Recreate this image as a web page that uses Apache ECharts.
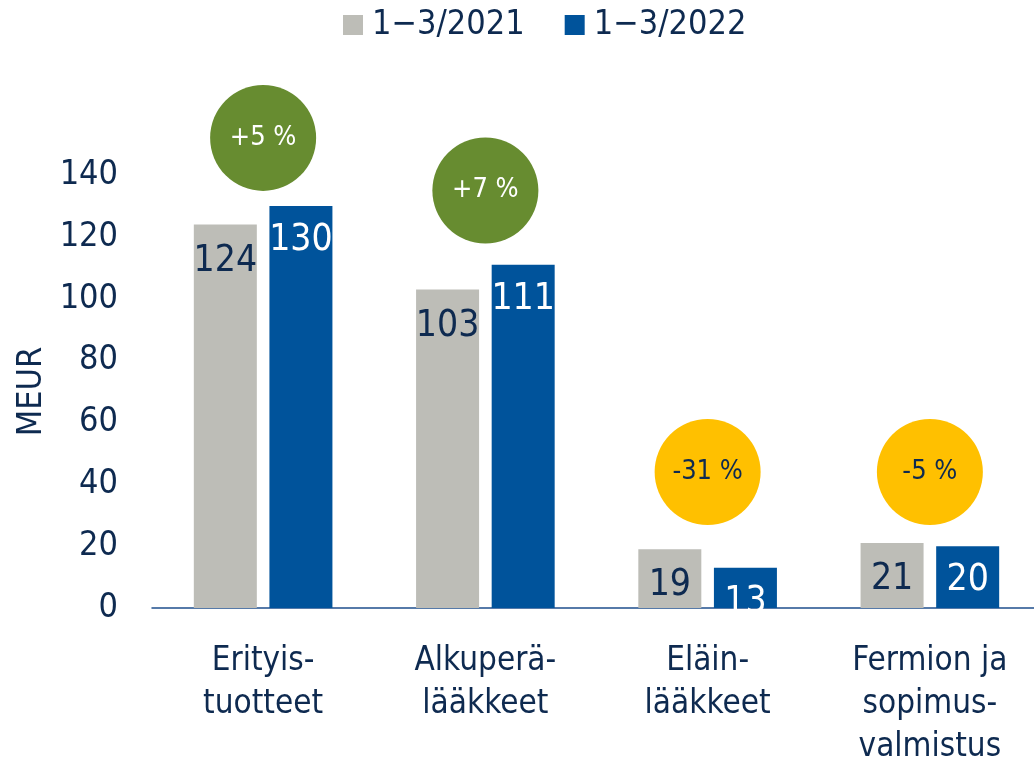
<!DOCTYPE html>
<html>
<head>
<meta charset="utf-8">
<script src="https://cdn.jsdelivr.net/npm/echarts@6/dist/echarts.min.js"></script>
<style>
  html, body { margin: 0; padding: 0; background: #fff; }
  #chart { width: 1034px; height: 758px; }
</style>
</head>
<body>
<div id="chart"></div>
<script>
var categories = ['Erityis-\ntuotteet', 'Alkuperä-\nlääkkeet', 'Eläin-\nlääkkeet', 'Fermion ja\nsopimus-\nvalmistus'];
var seriesNames = ['1\u22123/2021', '1\u22123/2022'];
var values2021 = [124, 103, 19, 21];
var values2022 = [130, 111, 13, 20];
var changeLabels = ['+5 %', '+7 %', '-31 %', '-5 %'];
var bubbleLevels = [152, 135, 44, 44];

var FONT = '"DejaVu Sans Condensed", "DejaVu Sans", sans-serif';
var NAVY = '#0e2a50';

chart01();
function chart01(){
  var myChart = echarts.init(document.getElementById('chart'));
  var bubbles = bubbleLevels.map(function(v, i){
    var up = changeLabels[i].charAt(0) === '+';
    return {
      value: v,
      itemStyle: { color: up ? '#678c30' : '#ffc000', opacity: 1 },
      label: { color: up ? '#ffffff' : NAVY }
    };
  });
  var option = {
    animation: false,
    textStyle: { fontFamily: FONT },
    color: ['#bdbdb7', '#00539b'],
    legend: {
      top: 3,
      left: 338,
      icon: 'rect',
      itemWidth: 20,
      itemHeight: 20,
      itemGap: 40,
      textStyle: { color: NAVY, fontSize: 34, fontFamily: FONT, padding: [0, 0, 0, 4] },
      data: seriesNames
    },
    grid: { left: 152, right: -7, top: 175, bottom: 150, outerBoundsMode: 'none', containLabel: false },
    xAxis: {
      type: 'category',
      data: categories,
      axisLine: { lineStyle: { color: '#1f4f8d', width: 1.5 } },
      axisTick: { show: false },
      axisLabel: {
        color: NAVY,
        fontSize: 33,
        lineHeight: 43,
        margin: 32,
        fontFamily: FONT
      }
    },
    yAxis: {
      type: 'value',
      min: 0,
      max: 140,
      interval: 20,
      name: 'MEUR',
      nameLocation: 'middle',
      nameRotate: 90,
      nameGap: 100,
      nameTextStyle: { color: NAVY, fontSize: 34, fontFamily: FONT },
      axisLine: { show: false },
      axisTick: { show: false },
      splitLine: { show: false },
      axisLabel: { color: NAVY, fontSize: 34, margin: 34, fontFamily: FONT }
    },
    series: [
      {
        name: seriesNames[0],
        type: 'bar',
        barWidth: 63,
        barGap: '20%',
        data: values2021,
        label: {
          show: true,
          position: 'insideTop',
          distance: 18,
          color: NAVY,
          fontSize: 37,
          fontFamily: FONT
        }
      },
      {
        name: seriesNames[1],
        type: 'bar',
        barWidth: 63,
        data: values2022,
        label: {
          show: true,
          position: 'insideTop',
          distance: 16,
          color: '#ffffff',
          fontSize: 37,
          fontFamily: FONT
        }
      },
      {
        name: 'muutos',
        type: 'scatter',
        symbol: 'circle',
        symbolSize: 106,
        clip: false,
        data: bubbles,
        z: 5,
        emphasis: { disabled: true },
        label: {
          show: true,
          position: 'inside',
          fontSize: 27,
          fontFamily: FONT,
          formatter: function(p){ return changeLabels[p.dataIndex]; }
        }
      }
    ]
  };
  myChart.setOption(option);
}
</script>
</body>
</html>
